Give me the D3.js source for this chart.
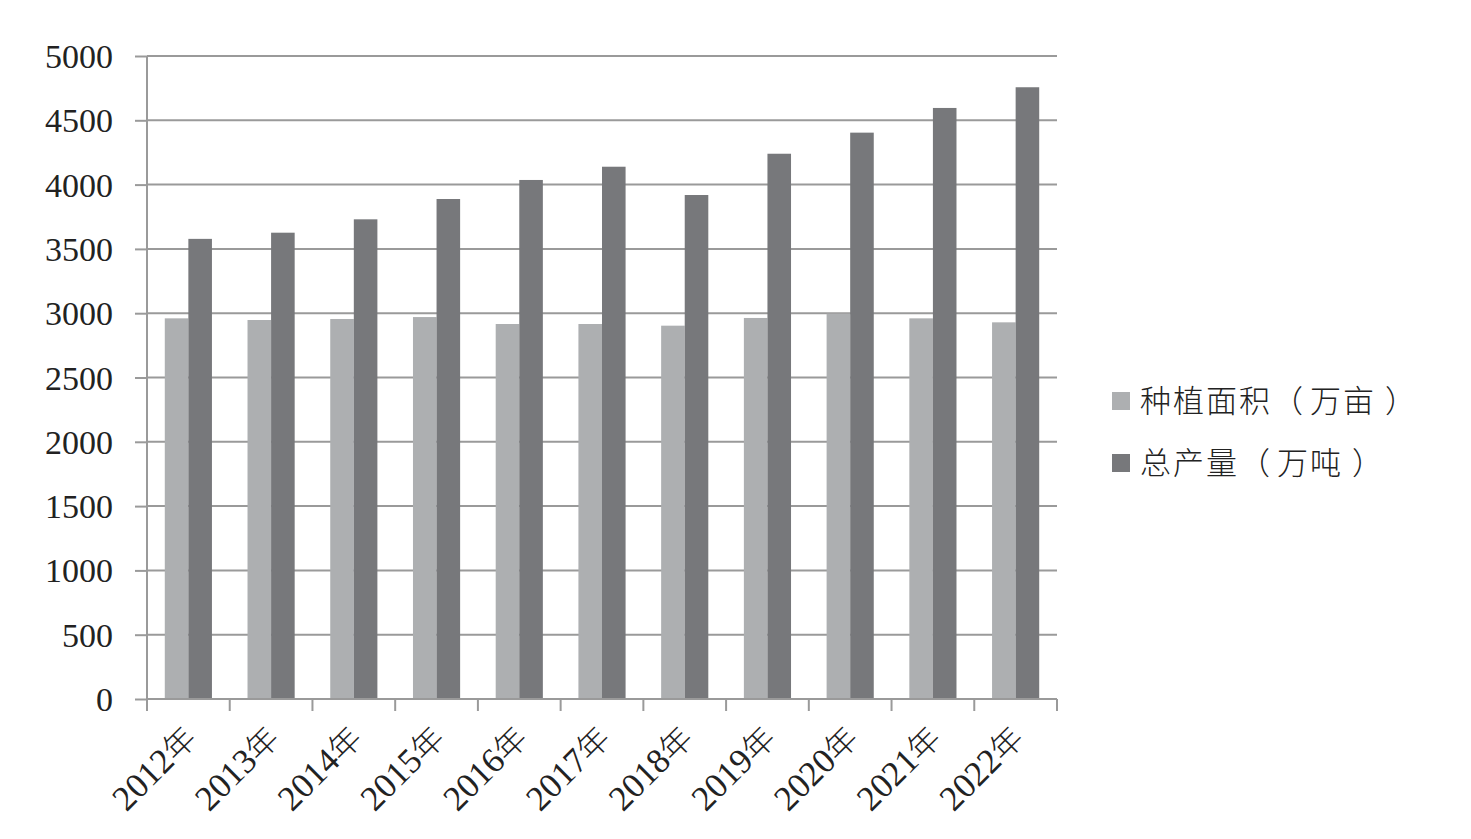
<!DOCTYPE html>
<html><head><meta charset="utf-8">
<script src="https://cdn.jsdelivr.net/npm/d3@7"></script>
<style>html,body{margin:0;padding:0;background:#fff;}</style>
</head><body>
<svg id="c" width="1471" height="839"></svg>
<script>
const years = ["2012年","2013年","2014年","2015年","2016年","2017年","2018年","2019年","2020年","2021年","2022年"];
const area = [2960,2947,2955,2970,2916,2916,2903,2963,2996,2960,2929];
const output = [3578,3626,3730,3888,4036,4139,3919,4240,4404,4596,4757];
const yTicks = [0,500,1000,1500,2000,2500,3000,3500,4000,4500,5000];
const seriesNames = ["种植面积（万亩）","总产量（万吨）"];
const colors = ["#adafb1","#77787b"];

const svg = d3.select("#c");
const L = 147, R = 1057, T = 56, B = 699;
const x = d3.scaleBand().domain(years).range([L, R]).paddingInner(0).paddingOuter(0);
const y = d3.scaleLinear().domain([0, 5000]).range([B, T]);
const gridColor = "#9a9a9a";
const serif = "'Liberation Serif','DejaVu Serif',serif";
const cjk = "'Noto Sans CJK SC',sans-serif";

// gridlines
svg.append("g").selectAll("line").data(yTicks.filter(d => d > 0)).join("line")
  .attr("x1", L).attr("x2", R).attr("y1", d => y(d)).attr("y2", d => y(d))
  .attr("stroke", gridColor).attr("stroke-width", 2);

// bars
const bw = x.bandwidth() * 0.285;
const g = svg.append("g");
years.forEach((yr, i) => {
  const cx = x(yr) + x.bandwidth() / 2;
  [area[i], output[i]].forEach((v, j) => {
    g.append("rect")
      .attr("x", cx - bw + j * bw).attr("width", bw)
      .attr("y", y(v)).attr("height", B - y(v))
      .attr("fill", colors[j]);
  });
});

// y axis
const yAxis = svg.append("g").attr("transform", `translate(${L},0)`)
  .call(d3.axisLeft(y).tickValues(yTicks).tickSize(12).tickPadding(22).tickFormat(d3.format("d")));
yAxis.select(".domain").attr("stroke", gridColor).attr("stroke-width", 2).attr("d", `M0,${T}V${B}`);
yAxis.selectAll(".tick line").attr("stroke", gridColor).attr("stroke-width", 2);
yAxis.selectAll(".tick text").attr("font-family", serif).attr("font-size", 34).attr("fill", "#222").attr("dy", "0.34em");

// x axis
const xAxis = svg.append("g").attr("transform", `translate(0,${B})`);
xAxis.append("line").attr("x1", L).attr("x2", R).attr("stroke", gridColor).attr("stroke-width", 2);
const bounds = years.map(d => x(d)).concat([R]);
xAxis.selectAll(".tk").data(bounds).join("line").attr("class","tk")
  .attr("x1", d => d).attr("x2", d => d).attr("y1", 0).attr("y2", 12)
  .attr("stroke", gridColor).attr("stroke-width", 2);
xAxis.selectAll("text").data(years).join("text")
  .attr("transform", d => `translate(${x(d) + x.bandwidth()/2 - 7},${24}) rotate(-45)`)
  .attr("text-anchor", "end").attr("dy", "0.7em")
  .attr("font-family", serif).attr("font-size", 35).attr("fill", "#222")
  .each(function(d){
    const t = d3.select(this);
    t.append("tspan").text(d.replace("年",""));
    t.append("tspan").text("年").attr("font-family", cjk).attr("font-weight", 300).attr("font-size", 32);
  });

// legend
const lg = svg.append("g");
seriesNames.forEach((n, i) => {
  const ly = 401 + i * 62;
  lg.append("rect").attr("x", 1112).attr("y", ly - 9).attr("width", 18).attr("height", 18).attr("fill", colors[i]);
  const t = lg.append("text").attr("y", ly).attr("dy", "0.36em")
    .attr("font-family", cjk).attr("font-size", 31).attr("fill", "#222")
    .attr("font-weight", 300);
  const chars = Array.from(n);
  const openIdx = chars.indexOf("（");
  chars.forEach((ch, k) => {
    const shift = (ch === "）") ? 14 : (k > openIdx && openIdx >= 0 ? 5 : 0);
    t.append("tspan").attr("x", 1140 + k * 33 + shift).text(ch);
  });
});
</script>
</body></html>
